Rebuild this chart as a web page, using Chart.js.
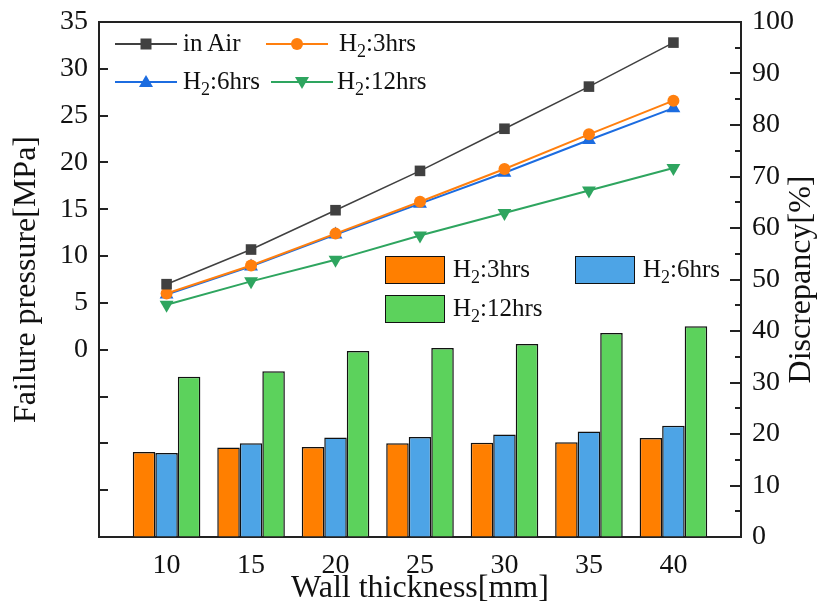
<!DOCTYPE html>
<html><head><meta charset="utf-8">
<script src="https://cdn.jsdelivr.net/npm/chart.js@4"></script>
<style>
html,body{margin:0;padding:0;background:#fff;}
#wrap{position:relative;width:817px;height:609px;background:#fff;}
canvas{position:absolute;left:0;top:0;}
.lg{position:absolute;font-family:"Liberation Serif","Times New Roman",serif;font-size:25px;line-height:25px;color:#111;white-space:nowrap;}
.lg sub{font-size:0.72em;vertical-align:baseline;position:relative;top:0.32em;line-height:0;}
.mk{position:absolute;overflow:visible;}
.box{position:absolute;box-sizing:border-box;border:1.5px solid #111;}
</style></head>
<body><div id="wrap"><canvas id="c" width="817" height="609"></canvas></div>
<script>
// ---- data ----
const thickness   = [10, 15, 20, 25, 30, 35, 40];
const airPressure = [7.0, 10.7, 14.9, 19.1, 23.6, 28.1, 32.8];
const h3Pressure  = [6.0, 9.0, 12.4, 15.8, 19.3, 23.0, 26.6];
const h6Pressure  = [5.9, 8.9, 12.3, 15.6, 18.9, 22.4, 25.8];
const h12Pressure = [4.8, 7.3, 9.6, 12.2, 14.6, 17.0, 19.4];
const h3Disc      = [16.5, 17.4, 17.5, 18.2, 18.3, 18.4, 19.2];
const h6Disc      = [16.3, 18.2, 19.3, 19.4, 19.9, 20.5, 21.6];
const h12Disc     = [31.1, 32.2, 36.1, 36.7, 37.5, 39.6, 40.9];
const lineNames   = ['in Air', 'H<sub>2</sub>:3hrs', 'H<sub>2</sub>:6hrs', 'H<sub>2</sub>:12hrs'];
const barNames    = ['H<sub>2</sub>:3hrs', 'H<sub>2</sub>:6hrs', 'H<sub>2</sub>:12hrs'];

const C = {gray:'#404040', orange:'#FF7F0E', blue:'#1C6CE0', green:'#2EA55F',
           barO:'#FF7F00', barB:'#4DA4E6', barG:'#5CD25C'};
const serif = "'Liberation Serif','Times New Roman',serif";
Chart.defaults.font.family = serif;
Chart.defaults.color = '#111';

const pts = (ys) => thickness.map((x, i) => ({x, y: ys[i]}));

const axisDecor = {
  id: 'axisDecor',
  afterDraw(chart) {
    const {ctx, chartArea: a, scales} = chart;
    ctx.save();
    ctx.strokeStyle = '#222';
    ctx.lineWidth = 2;
    ctx.beginPath(); ctx.moveTo(a.left - 1, a.top); ctx.lineTo(a.right + 1, a.top); ctx.stroke();
    const y = scales.y;
    y.ticks.forEach(t => {
      if (t.value > y.min && t.value < y.max) {
        const p = Math.round(y.getPixelForValue(t.value));
        ctx.beginPath(); ctx.moveTo(a.left, p); ctx.lineTo(a.left + 9, p); ctx.stroke();
      }
    });
    const r = scales.y1;
    const tv = r.ticks.map(t => t.value);
    tv.forEach((v, i) => {
      if (v > r.min && v < r.max) {
        const p = Math.round(r.getPixelForValue(v));
        ctx.beginPath(); ctx.moveTo(a.right, p); ctx.lineTo(a.right - 11, p); ctx.stroke();
      }
      if (i < tv.length - 1) {
        const p = Math.round(r.getPixelForValue((v + tv[i + 1]) / 2));
        ctx.beginPath(); ctx.moveTo(a.right, p); ctx.lineTo(a.right - 6, p); ctx.stroke();
      }
    });
    ctx.fillStyle = '#111';
    ctx.font = "32px " + serif;
    ctx.translate(a.right + 61, (a.top + a.bottom) / 2);
    ctx.rotate(-Math.PI / 2);
    ctx.textAlign = 'center';
    ctx.textBaseline = 'middle';
    ctx.fillText('Discrepancy[%]', 0, 0);
    ctx.restore();
  }
};

const borderOpt = {display: true, color: '#222', width: 2};
const gridOpt = {display: true, drawOnChartArea: false, drawTicks: false};
const noPadV = (w) => (s) => { s.width = w; s.paddingTop = 0; s.paddingBottom = 0; };

new Chart(document.getElementById('c'), {
  type: 'bar',
  data: {
    datasets: [
      {type:'line', label:'in Air', data: pts(airPressure), yAxisID:'y', borderColor:C.gray, backgroundColor:C.gray,
       pointStyle:'rect', pointRadius:7.5, pointBorderWidth:0, borderWidth:1.5, order:0},
      {type:'line', label:'H2:3hrs', data: pts(h3Pressure), yAxisID:'y', borderColor:C.orange, backgroundColor:C.orange,
       pointStyle:'circle', pointRadius:6, pointBorderWidth:0, borderWidth:2, order:0},
      {type:'line', label:'H2:6hrs', data: pts(h6Pressure), yAxisID:'y', borderColor:C.blue, backgroundColor:C.blue,
       pointStyle:'triangle', pointRadius:8, pointBorderWidth:0, borderWidth:2, order:0},
      {type:'line', label:'H2:12hrs', data: pts(h12Pressure), yAxisID:'y', borderColor:C.green, backgroundColor:C.green,
       pointStyle:'triangle', pointRotation:180, pointRadius:8, pointBorderWidth:0, borderWidth:2, order:0},
      {type:'bar', label:'H2:3hrs', data: pts(h3Disc), yAxisID:'y1', backgroundColor:C.barO, borderColor:'#111',
       borderWidth:1.5, categoryPercentage:0.8, barPercentage:1, order:1},
      {type:'bar', label:'H2:6hrs', data: pts(h6Disc), yAxisID:'y1', backgroundColor:C.barB, borderColor:'#111',
       borderWidth:1.5, categoryPercentage:0.8, barPercentage:1, order:1},
      {type:'bar', label:'H2:12hrs', data: pts(h12Disc), yAxisID:'y1', backgroundColor:C.barG, borderColor:'#111',
       borderWidth:1.5, categoryPercentage:0.8, barPercentage:1, order:1}
    ]
  },
  options: {
    responsive: false, animation: false, devicePixelRatio: 1,
    layout: {padding: {top: 22, left: 0, right: 0, bottom: 0}},
    plugins: {legend: {display: false}, tooltip: {enabled: false}},
    scales: {
      x: {type:'linear', min:6, max:44, offset:false,
          afterBuildTicks: s => { s.ticks = thickness.map(v => ({value: v})); },
          ticks: {font:{size:28}, padding:12, color:'#111', autoSkip:false},
          grid: gridOpt, border: borderOpt,
          title: {display:true, text:'Wall thickness[mm]', font:{size:32, lineHeight:1}, padding:{top:0, bottom:4}, color:'#111'},
          afterFit: s => { s.height = 72; s.paddingLeft = 0; s.paddingRight = 0; }},
      y: {position:'left', min:-20, max:35,
          ticks: {stepSize:5, autoSkip:false, font:{size:28}, padding:11, color:'#111',
                  callback: v => (v < 0 ? '' : v)},
          grid: gridOpt, border: borderOpt,
          title: {display:true, text:'Failure pressure[MPa]', font:{size:32, lineHeight:1}, padding:{top:11, bottom:0}, color:'#111'},
          afterFit: noPadV(99)},
      y1: {position:'right', min:0, max:100,
          ticks: {stepSize:10, autoSkip:false, font:{size:28}, padding:11, color:'#111'},
          grid: gridOpt, border: borderOpt,
          afterFit: noPadV(76)}
    }
  },
  plugins: [axisDecor]
});

// ---- legends (HTML text) ----
const wrap = document.getElementById('wrap');
function svgMarker(kind, color) {
  let m = '';
  if (kind === 'rect') m = `<rect x="25.5" y="4.5" width="11" height="11" fill="${color}"/>`;
  if (kind === 'circle') m = `<circle cx="31" cy="10" r="6" fill="${color}"/>`;
  if (kind === 'tri') m = `<polygon points="31,3 38,15 24,15" fill="${color}"/>`;
  if (kind === 'itri') m = `<polygon points="31,17 38,5 24,5" fill="${color}"/>`;
  return `<svg width="62" height="20" viewBox="0 0 62 20"><line x1="0" y1="10" x2="62" y2="10" stroke="${color}" stroke-width="2"/>${m}</svg>`;
}
function lineItem(x, cy, kind, color, html, tx) {
  const s = document.createElement('div');
  s.className = 'mk'; s.style.left = x + 'px'; s.style.top = (cy - 10) + 'px';
  s.innerHTML = svgMarker(kind, color); wrap.appendChild(s);
  const t = document.createElement('div');
  t.className = 'lg'; t.style.left = tx + 'px'; t.style.top = (cy - 14) + 'px';
  t.innerHTML = html; wrap.appendChild(t);
}
lineItem(115, 44, 'rect', C.gray, lineNames[0], 183);
lineItem(266, 44, 'circle', C.orange, lineNames[1], 339);
lineItem(115, 82, 'tri', C.blue, lineNames[2], 183);
lineItem(271, 82, 'itri', C.green, lineNames[3], 337);

function barItem(x, top, color, html) {
  const b = document.createElement('div');
  b.className = 'box'; b.style.left = x + 'px'; b.style.top = top + 'px';
  b.style.width = '60px'; b.style.height = '28px'; b.style.background = color;
  wrap.appendChild(b);
  const t = document.createElement('div');
  t.className = 'lg'; t.style.left = (x + 68) + 'px'; t.style.top = top + 'px';
  t.innerHTML = html; wrap.appendChild(t);
}
barItem(385, 256, C.barO, barNames[0]);
barItem(575, 256, C.barB, barNames[1]);
barItem(385, 295, C.barG, barNames[2]);
</script>
</body></html>
